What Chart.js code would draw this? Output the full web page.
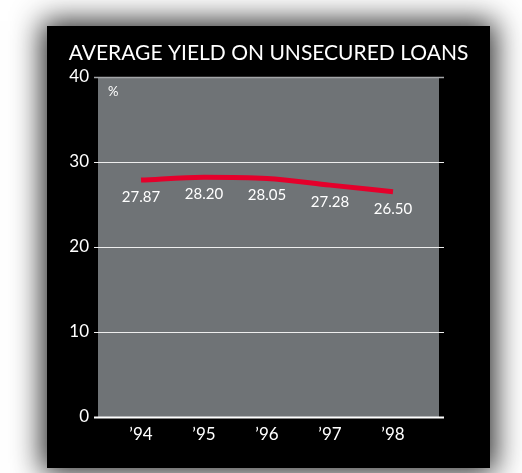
<!DOCTYPE html>
<html>
<head>
<meta charset="utf-8">
<script src="https://cdn.jsdelivr.net/npm/chart.js@4"></script>
<style>
    body {
        margin: 0;
        background: #ffffff;
        width: 522px;
        height: 473px;
        overflow: hidden;
    }
    #panel {
        position: absolute;
        left: 47px;
        top: 26px;
        width: 443px;
        height: 442px;
        background: #000000;
        box-shadow: 0 0 28px 5px rgba(0, 0, 0, 0.85);
    }
</style>
</head>
<body>
<div id="panel">
    <canvas id="chart" width="443" height="442"></canvas>
</div>
<script>
const titleText = 'AVERAGE YIELD ON UNSECURED LOANS';
const unitText = '%';
const years = ['94', '95', '96', '97', '98'];
const yieldValues = [27.87, 28.20, 28.05, 27.28, 26.50];
const yTicks = [0, 10, 20, 30, 40];

const fontFamily = 'Lato, "Open Sans", sans-serif';

// grey plot box plus horizontal rules that stick out a little on both sides
const plotBackground = {
    id: 'plotBackground',
    beforeDatasetsDraw(chart) {
        const ctx = chart.ctx;
        const area = chart.chartArea;
        const y = chart.scales.y;
        ctx.save();
        ctx.fillStyle = '#6f7376';
        ctx.fillRect(area.left, area.top, area.right - area.left, area.bottom - area.top);
        for (const value of yTicks) {
            const py = Math.round(y.getPixelForValue(value)) + 0.5;
            ctx.beginPath();
            ctx.moveTo(area.left - 4, py);
            ctx.lineTo(area.right + 5, py);
            if (value === 40) {
                ctx.strokeStyle = '#a3a5a7';
                ctx.lineWidth = 1.5;
            } else if (value === 0) {
                ctx.strokeStyle = '#ffffff';
                ctx.lineWidth = 2;
            } else {
                ctx.strokeStyle = '#eeeeee';
                ctx.lineWidth = 1;
            }
            ctx.stroke();
        }
        ctx.restore();
    }
};

// title, unit sign and the value under each point
const annotations = {
    id: 'annotations',
    afterDatasetsDraw(chart) {
        const ctx = chart.ctx;
        const area = chart.chartArea;
        ctx.save();
        ctx.fillStyle = '#ffffff';
        ctx.textBaseline = 'middle';

        ctx.textAlign = 'center';
        ctx.font = '21px ' + fontFamily;
        ctx.fillText(titleText, chart.width / 2, 27);

        ctx.textAlign = 'left';
        ctx.font = '13px ' + fontFamily;
        ctx.fillText(unitText, area.left + 10, area.top + 15);

        ctx.textAlign = 'center';
        ctx.font = '15px ' + fontFamily;
        const meta = chart.getDatasetMeta(0);
        meta.data.forEach((point, i) => {
            ctx.fillText(yieldValues[i].toFixed(2), point.x, point.y + 17);
        });
        ctx.restore();
    }
};

const chartCanvas = document.getElementById('chart');

chart = new Chart(chartCanvas, {
    type: 'line',
    data: {
        datasets: [{
            data: yieldValues.map((v, i) => ({ x: i, y: v })),
            borderColor: '#e4002b',
            borderWidth: 5,
            cubicInterpolationMode: 'monotone',
            pointRadius: 0,
            borderCapStyle: 'butt'
        }]
    },
    options: {
        responsive: false,
        animation: false,
        layout: {
            padding: { left: 0, right: 51, top: 51, bottom: 0 }
        },
        scales: {
            x: {
                type: 'linear',
                min: -0.683,
                max: 4.73,
                border: { display: false },
                grid: { display: false, drawTicks: false },
                afterBuildTicks: axis => {
                    axis.ticks = years.map((_, i) => ({ value: i }));
                },
                afterFit: axis => {
                    axis.height = 51;
                },
                ticks: {
                    color: '#ffffff',
                    padding: 7,
                    font: { family: fontFamily, size: 17 },
                    callback: value => '\u2019' + years[value]
                }
            },
            y: {
                min: 0,
                max: 40,
                border: { display: false },
                grid: { display: false, drawTicks: false },
                afterBuildTicks: axis => {
                    axis.ticks = yTicks.map(v => ({ value: v }));
                },
                afterFit: axis => {
                    axis.width = 51;
                },
                ticks: {
                    color: '#ffffff',
                    padding: 9,
                    font: { family: fontFamily, size: 17 }
                }
            }
        },
        plugins: {
            legend: { display: false },
            tooltip: { enabled: false }
        }
    },
    plugins: [plotBackground, annotations]
});
</script>
</body>
</html>
